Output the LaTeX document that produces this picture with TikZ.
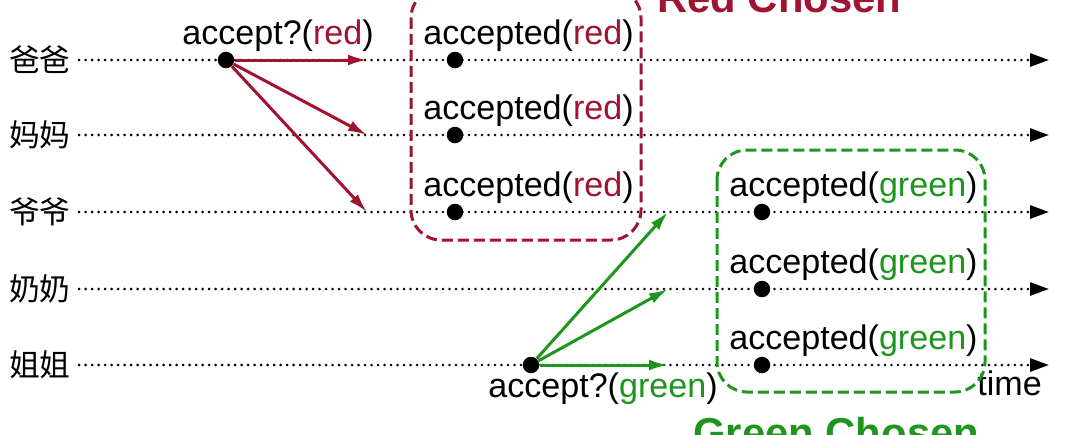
\documentclass[tikz,border=0pt]{standalone}
\usepackage{fontspec}
\setmainfont{Liberation Sans}
\newfontfamily\cjk{Noto Sans CJK SC}
\usetikzlibrary{arrows.meta}
\definecolor{redc}{RGB}{160,20,50}
\definecolor{greenc}{RGB}{30,150,30}

\begin{document}
\begin{tikzpicture}[x=0.02cm, y=-0.02cm,
    every node/.style={inner sep=0pt},
    txt/.style={font=\fontsize{19.4}{23}\selectfont, anchor=base west},
    who/.style={font=\cjk\fontsize{17.5}{20}\selectfont},
    timeline/.style={line width=0.058cm, line cap=round, dash pattern=on 0pt off 0.13cm,
        -{Triangle[length=0.38cm,width=0.26cm]}},
    dot/.style={circle, fill=black, minimum size=0.33cm},
    msg/.style={line width=0.06cm, -{Latex[length=0.38cm,width=0.22cm]}},
    chosen/.style={line width=0.06cm, dash pattern=on 0.22cm off 0.1cm, rounded corners=0.6cm},
    title/.style={font=\bfseries\fontsize{23.8}{27}\selectfont, anchor=base west}]
    \useasboundingbox (0,0) rectangle (1080,434);

    % tidslinjer
    \foreach \name/\who/\y in {ba/爸爸/60, ma/妈妈/135, ye/爷爷/212, nai/奶奶/289, jie/姐姐/365} {
            \node[who] (\name) at (40,\y) {\who};
            \coordinate (\name-end) at (1049,\y);
            \draw[timeline] ([xshift=0.16cm]\name.east) -- (\name-end);
        }
    \node[txt] (time) at (977,395) {time};

    % rutor
    \draw[chosen, redc] (411,-12) rectangle (641,240);
    \draw[chosen, greenc] (717,150) rectangle (985,392);
    \node[title, text=redc] (redtitle) at (657,12) {Red Chosen};
    \node[title, text=greenc] (greentitle) at (693,447) {Green Chosen};

    % red
    \node[dot] (rdot) at (226,60) {};
    \node[txt, xshift=-0.88cm, yshift=0.32cm] at (rdot) {accept?(\textcolor{redc}{red})};
    \foreach \name in {ba, ma, ye} {
            \node[dot] (r\name) at (\name -| 455,0) {};
            \node[txt, xshift=-0.64cm, yshift=0.32cm] at (r\name) {accepted(\textcolor{redc}{red})};
            \coordinate (ra\name) at (\name -| 367,0);
            \draw[msg, redc] (rdot) -- (ra\name);
        }

    % green
    \node[dot] (gdot) at (531,365) {};
    \node[txt, xshift=-0.86cm, yshift=-0.64cm] at (gdot) {accept?(\textcolor{greenc}{green})};
    \foreach \name in {ye, nai, jie} {
            \node[dot] (g\name) at (\name -| 762,0) {};
            \node[txt, xshift=-0.66cm, yshift=0.32cm] at (g\name) {accepted(\textcolor{greenc}{green})};
            \coordinate (ga\name) at (\name -| 668,0);
            \draw[msg, greenc] (gdot) -- (ga\name);
        }
\end{tikzpicture}
\end{document}
